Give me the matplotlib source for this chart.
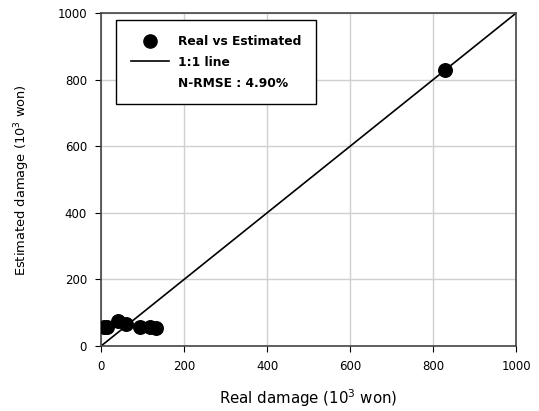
import matplotlib.pyplot as plt
from matplotlib.lines import Line2D

plt.rcParams['font.family'] = ['DejaVu Sans']

# data
real = [8, 15, 42, 60, 93, 118, 132, 828]
estimated = [57, 58, 75, 67, 58, 57, 55, 828]
one_to_one = [0, 1000]
ticks = [0, 200, 400, 600, 800, 1000]
nrmse_text = 'N-RMSE : 4.90%'

fig = plt.figure(figsize=(5.39, 4.11), dpi=100)
ax = fig.add_axes([0.1874, 0.158, 0.770, 0.810])

ax.plot(one_to_one, one_to_one, color='black', lw=1.2, zorder=2)
ax.scatter(real, estimated, s=95, color='black', zorder=3)

ax.set_xlim(0, 1000)
ax.set_ylim(0, 1000)
ax.set_xticks(ticks)
ax.set_yticks(ticks)
ax.grid(True, color='#d0d0d0', lw=1)
ax.set_axisbelow(True)
ax.tick_params(direction='out', length=4, labelsize=8.5, colors='black', pad=6)
for sp in ax.spines.values():
    sp.set_color('#444444')
    sp.set_linewidth(1.2)

ax.set_xlabel('Real damage (10$^3$ won)', fontsize=10.8, labelpad=10)
ax.set_ylabel('Estimated damage (10$^3$ won)', fontsize=9.4, labelpad=18)

handles = [
    Line2D([], [], marker='o', ls='none', color='black', markersize=9.5),
    Line2D([], [], color='black', lw=1.2),
    Line2D([], [], color='none'),
]
labels = ['Real vs Estimated', '1:1 line', nrmse_text]
leg = ax.legend(handles, labels, loc='upper left', bbox_to_anchor=(0.036, 0.979),
                borderaxespad=0, prop={'weight': 'bold', 'size': 8.8}, fancybox=False,
                edgecolor='black', framealpha=1, borderpad=1.2,
                handlelength=3.1, handletextpad=0.75, labelspacing=0.65)
leg.get_frame().set_linewidth(1.0)

fig.savefig('out.png', dpi=100)
